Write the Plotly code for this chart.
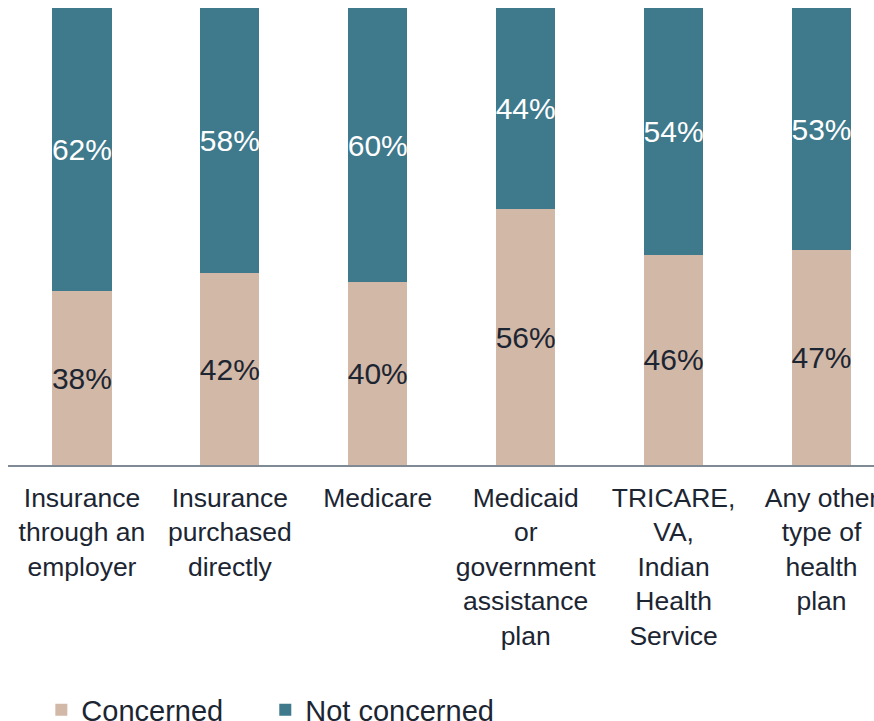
import plotly.graph_objects as go

categories = [
    "Insurance<br>through an<br>employer",
    "Insurance<br>purchased<br>directly",
    "Medicare",
    "Medicaid<br>or<br>government<br>assistance<br>plan",
    "TRICARE,<br>VA,<br>Indian<br>Health<br>Service",
    "Any other<br>type of<br>health<br>plan",
]
concerned = [38, 42, 40, 56, 46, 47]
not_concerned = [62, 58, 60, 44, 54, 53]

TAN = "#D2B8A6"
TEAL = "#3F798C"
DARK = "#1C2532"
FONT = "Arial, Liberation Sans, sans-serif"

fig = go.Figure()
fig.add_trace(go.Bar(
    x=categories, y=concerned, name="Concerned",
    marker=dict(color=TAN, line=dict(width=0)),
    text=[f"{v}%" for v in concerned], textposition="inside",
    insidetextanchor="middle", constraintext="none", textangle=0,
    textfont=dict(family=FONT, size=30, color=DARK),
    width=0.4, legend="legend",
))
fig.add_trace(go.Bar(
    x=categories, y=not_concerned, name="Not concerned",
    marker=dict(color=TEAL, line=dict(width=0)),
    text=[f"{v}%" for v in not_concerned], textposition="inside",
    insidetextanchor="middle", constraintext="none", textangle=0,
    textfont=dict(family=FONT, size=30, color="white"),
    width=0.4, legend="legend2",
))

legend_common = dict(
    orientation="h", xref="paper", yref="paper",
    y=-0.536, xanchor="left", yanchor="middle",
    font=dict(family=FONT, size=29, color=DARK),
    itemwidth=30, bgcolor="rgba(0,0,0,0)",
)

fig.update_layout(
    barmode="stack",
    width=874, height=721,
    margin=dict(l=8, r=0, t=8, b=256, autoexpand=False),
    paper_bgcolor="white", plot_bgcolor="white",
    font=dict(family=FONT, color=DARK),
    showlegend=True,
    legend=dict(x=0.0385, **legend_common),
    legend2=dict(x=0.2971, **legend_common),
)
fig.update_xaxes(
    range=[-0.5, 5.355], showgrid=False, showline=True,
    linecolor="#7F8A94", linewidth=2, ticks="",
    tickfont=dict(family=FONT, size=26.5, color=DARK),
    ticklabelstandoff=8,
    tickangle=0, fixedrange=True,
)
fig.update_yaxes(range=[0, 100], visible=False, showgrid=False, fixedrange=True)

fig.write_html("out.html")
